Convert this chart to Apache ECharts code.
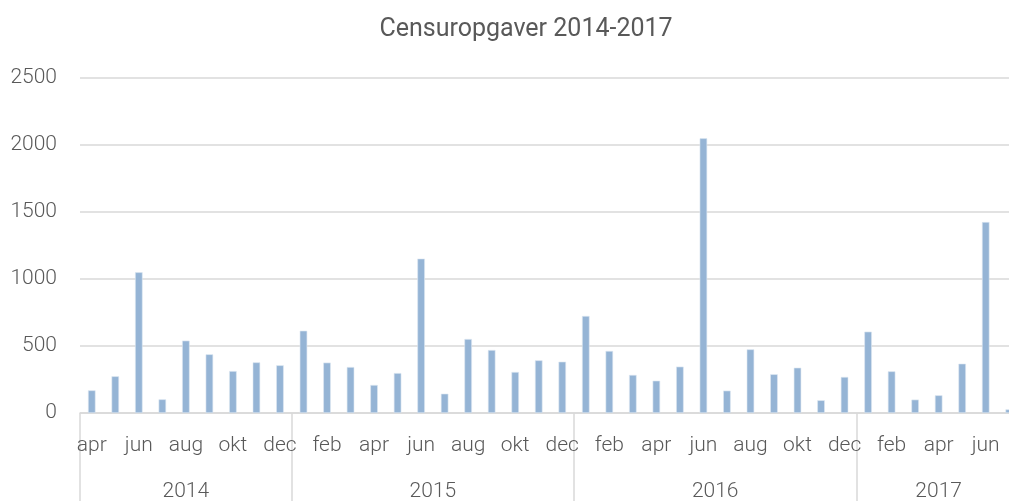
<!DOCTYPE html>
<html>
<head>
<meta charset="utf-8">
<script src="https://cdn.jsdelivr.net/npm/echarts@6/dist/echarts.min.js"></script>
<style>
  html, body { margin: 0; padding: 0; background: #fff; }
  #chart { width: 1009px; height: 501px; }
</style>
</head>
<body>
<div id="chart"></div>
<script>
const titleText = 'Censuropgaver 2014-2017';
const months = ['apr','maj','jun','jul','aug','sep','okt','nov','dec',
  'jan','feb','mar','apr','maj','jun','jul','aug','sep','okt','nov','dec',
  'jan','feb','mar','apr','maj','jun','jul','aug','sep','okt','nov','dec',
  'jan','feb','mar','apr','maj','jun','jul'];
const years = ['2014','2015','2016','2017'];
const monthsPerYear = [9, 12, 12, 7];
const values = [169, 274, 1050, 102, 540, 438, 313, 378, 356,
  614, 376, 343, 209, 298, 1152, 144, 552, 470, 306, 393, 383,
  724, 463, 284, 241, 346, 2050, 167, 475, 289, 338, 95, 269,
  607, 311, 100, 132, 368, 1425, 27];
const yTicks = [0, 500, 1000, 1500, 2000, 2500];

// year group boundaries and centers (in category units)
const bounds = [0];
monthsPerYear.forEach(n => bounds.push(bounds[bounds.length - 1] + n));
const centers = years.map((y, i) => (bounds[i] + bounds[i + 1]) / 2);

const txt = '#595959';
const gridCol = '#d9d9d9';
const chart = echarts.init(document.getElementById('chart'), null, { renderer: 'canvas' });
chart.setOption({
  animation: false,
  backgroundColor: '#fff',
  title: {
    text: titleText,
    left: 521, top: 12, textAlign: 'center',
    textStyle: { fontFamily: 'Roboto', fontWeight: 400, fontSize: 25, color: txt }
  },
  grid: { left: 80, right: -12, top: 78, bottom: 88, containLabel: false, outerBoundsMode: 'none' },
  xAxis: [{
    type: 'category',
    data: months,
    boundaryGap: true,
    axisLine: { show: true, lineStyle: { color: gridCol, width: 1.5 } },
    axisTick: { show: false },
    axisLabel: { interval: 1, margin: 22, fontFamily: 'Roboto', fontWeight: 300, fontSize: 21, color: txt }
  }, {
    type: 'value',
    min: 0, max: bounds[bounds.length - 1],
    position: 'bottom',
    axisLine: { show: false },
    splitLine: { show: false },
    axisTick: { show: true, customValues: bounds, length: 95, lineStyle: { color: gridCol, width: 1.5 } },
    axisLabel: {
      customValues: centers, margin: 68,
      formatter: v => years[centers.indexOf(v)] || '',
      fontFamily: 'Roboto', fontWeight: 300, fontSize: 21, color: txt
    }
  }],
  yAxis: {
    type: 'value', min: yTicks[0], max: yTicks[yTicks.length - 1], interval: 500,
    axisLine: { show: false }, axisTick: { show: false },
    splitLine: { lineStyle: { color: gridCol, width: 1.5 } },
    axisLabel: { margin: 23, formatter: v => String(v), fontFamily: 'Roboto', fontWeight: 300, fontSize: 21, color: txt }
  },
  series: [{
    type: 'bar',
    xAxisIndex: 0,
    data: values,
    barWidth: 7.5,
    itemStyle: { color: '#95b4d5', borderColor: '#dde7f2', borderWidth: 0.6 }
  }]
});
</script>
</body>
</html>
